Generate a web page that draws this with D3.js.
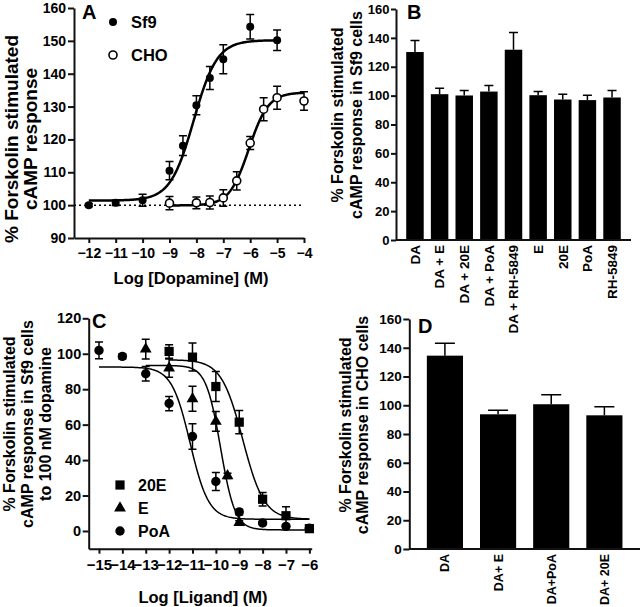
<!DOCTYPE html>
<html><head><meta charset="utf-8">
<script src="https://cdn.jsdelivr.net/npm/d3@7"></script>
<style>
body{margin:0;background:#fff;}
svg text{font-family:"Liberation Sans",Arial,Helvetica,sans-serif;font-weight:bold;fill:#000;}
</style></head><body>
<svg id="fig" width="640" height="607"></svg>
<script>
// ---------- Panel A : dose-response, Log [Dopamine] ----------
const doseSf9 = [-12, -11, -10, -9, -8.5, -8, -7.5, -7, -6, -5];
const respSf9 = [100, 100.7, 101.5, 110.5, 118.1, 130.4, 138.7, 144.4, 154.3, 150.2];
const errSf9  = [0.5, 0.8, 1.8, 2.8, 3.0, 2.9, 3.5, 4.4, 3.7, 3.1];
const doseCHO = [-9, -8, -7.5, -7, -6.5, -6, -5.5, -5, -4];
const respCHO = [100.6, 100.7, 100.8, 102.2, 107.4, 118.9, 129.2, 132.7, 131.7];
const errCHO  = [2.0, 1.8, 2.0, 2.5, 2.8, 2.0, 3.5, 3.5, 2.8];
const fitSf9 = {bottom: 101.4, top: 150.2, logEC50: -8.1, slope: 1.0, from: -12, to: -5};
const fitCHO = {bottom: 99.9, top: 134.3, logEC50: -6.05, slope: 1.2, from: -9, to: -4};
const ticksAx = [-12, -11, -10, -9, -8, -7, -6, -5, -4];
const ticksAy = [90, 100, 110, 120, 130, 140, 150, 160];

// ---------- Panel B : bars, Sf9 cells ----------
const catsB = ["DA", "DA + E", "DA + 20E", "DA + PoA", "DA + RH-5849", "E", "20E", "PoA", "RH-5849"];
const valsB = [130.2, 101.0, 100.1, 102.8, 131.8, 100.3, 97.3, 96.9, 98.7];
const errsB = [8.0, 4.1, 3.5, 4.2, 12.0, 2.5, 3.7, 3.4, 4.9];
const ticksBy = [0, 20, 40, 60, 80, 100, 120, 140, 160];

// ---------- Panel C : inhibition curves, Log [Ligand] ----------
const dose20E = [-12, -11, -10, -9, -8, -7, -6];
const resp20E = [101.3, 98.1, 81.5, 61.4, 17.9, 8.6, 1.3];
const err20E  = [3.8, 7.9, 8.5, 6.6, 3.8, 5.1, 2.0];
const doseE   = [-13, -12, -11, -10, -9.5, -9];
const respE   = [102.6, 91.9, 74.6, 61.8, 31.1, 4.7];
const errE    = [5.6, 5.1, 7.0, 5.6, 1.5, 1.0];
const dosePoA = [-15, -14, -13, -12, -11, -10, -9, -8, -7, -6];
const respPoA = [101.9, 98.5, 88.7, 71.9, 53.3, 27.9, 10.7, 4.5, 2.6, 1.5];
const errPoA  = [4.7, 1.5, 4.1, 4.0, 7.2, 5.1, 1.5, 1.0, 1.0, 1.0];
const fit20E = {bottom: 6.6, top: 96.6, logEC50: -8.85, slope: -0.95, from: -12, to: -6};
const fitE   = {bottom: 0.6, top: 93.4, logEC50: -9.8, slope: -1.4, from: -13, to: -6};
const fitPoA = {bottom: 6.6, top: 92.5, logEC50: -11.1, slope: -1.1, from: -15, to: -6};
const ticksCx = [-15, -14, -13, -12, -11, -10, -9, -8, -7, -6];
const ticksCy = [0, 20, 40, 60, 80, 100, 120];

// ---------- Panel D : bars, CHO cells ----------
const catsD = ["DA", "DA+ E", "DA+PoA", "DA+ 20E"];
const valsD = [134.5, 93.7, 100.7, 93.0];
const errsD = [8.6, 2.8, 6.6, 6.0];
const ticksDy = [0, 20, 40, 60, 80, 100, 120, 140, 160];

// =====================================================
const svg = d3.select("#fig");
const AX = "#111";

function hill(p) {
  return x => p.bottom + (p.top - p.bottom) / (1 + Math.pow(10, p.slope * (p.logEC50 - x)));
}
function curvePts(p) {
  const f = hill(p), pts = [];
  const n = 200;
  for (let i = 0; i <= n; i++) { const x = p.from + (p.to - p.from) * i / n; pts.push([x, f(x)]); }
  return pts;
}
function styleAxis(g, fs) {
  g.select(".domain").attr("stroke", AX).attr("stroke-width", 2);
  g.selectAll(".tick line").attr("stroke", AX).attr("stroke-width", 2);
  g.selectAll(".tick text").attr("font-size", fs).attr("fill", "#000")
    .style("font-family", "'Liberation Sans',Arial,sans-serif").style("font-weight", "bold");
  g.attr("font-family", null).attr("font-size", null);
}
function yTitle(lines, xs, cy, fs) {
  lines.forEach((t, i) => {
    svg.append("text").attr("transform", `translate(${xs[i]},${cy}) rotate(-90)`)
      .attr("text-anchor", "middle").attr("dominant-baseline", "central")
      .attr("font-size", fs).text(t);
  });
}
function label(t, x, y, fs) {
  svg.append("text").attr("x", x).attr("y", y).attr("font-size", fs).text(t);
}
function errBars(g, xs, ys, es, sx, sy, cap) {
  g.selectAll(null).data(xs).enter().append("path")
    .attr("d", (d, i) => {
      const x = sx(d), y1 = sy(ys[i] - es[i]), y2 = sy(ys[i] + es[i]);
      return `M${x},${y1}V${y2}M${x - cap},${y1}H${x + cap}M${x - cap},${y2}H${x + cap}`;
    })
    .attr("stroke", "#000").attr("stroke-width", 1.5).attr("fill", "none");
}

// ---------------- Panel A ----------------
{
  const x = d3.scaleLinear().domain([-12.55, -4]).range([74, 304]);
  const y = d3.scaleLinear().domain([90, 160]).range([238, 8]);
  const g = svg.append("g");
  g.append("g").attr("transform", "translate(0,238)")
    .call(d3.axisBottom(x).tickValues(ticksAx).tickFormat(d3.format("d")).tickSize(5).tickPadding(5.4).tickSizeOuter(0))
    .call(a => styleAxis(a, 14));
  g.append("g").attr("transform", "translate(74,0)")
    .call(d3.axisLeft(y).tickValues(ticksAy).tickSize(6).tickPadding(2).tickSizeOuter(0))
    .call(a => styleAxis(a, 14));
  // dotted baseline at 100
  g.append("line").attr("x1", x(-12.55)).attr("x2", x(-4.1)).attr("y1", y(100)).attr("y2", y(100))
    .attr("stroke", "#000").attr("stroke-width", 1.5).attr("stroke-dasharray", "2,3");
  const line = d3.line().x(d => x(d[0])).y(d => y(d[1]));
  [fitSf9, fitCHO].forEach(p => g.append("path").attr("d", line(curvePts(p)))
    .attr("fill", "none").attr("stroke", "#000").attr("stroke-width", 2.5));
  errBars(g, doseSf9, respSf9, errSf9, x, y, 4);
  errBars(g, doseCHO, respCHO, errCHO, x, y, 4);
  g.selectAll(null).data(doseSf9).enter().append("circle")
    .attr("cx", d => x(d)).attr("cy", (d, i) => y(respSf9[i])).attr("r", 4).attr("fill", "#000");
  g.selectAll(null).data(doseCHO).enter().append("circle")
    .attr("cx", d => x(d)).attr("cy", (d, i) => y(respCHO[i])).attr("r", 4)
    .attr("fill", "#fff").attr("stroke", "#000").attr("stroke-width", 1.6);
  // legend
  g.append("circle").attr("cx", 113).attr("cy", 22).attr("r", 4).attr("fill", "#000");
  label("Sf9", 131, 28, 16.5);
  g.append("circle").attr("cx", 113).attr("cy", 55).attr("r", 4).attr("fill", "#fff").attr("stroke", "#000").attr("stroke-width", 1.6);
  label("CHO", 131, 61, 16.5);
  label("A", 82, 19, 20);
  svg.append("text").attr("x", 191).attr("y", 284).attr("text-anchor", "middle").attr("font-size", 16.5).text("Log [Dopamine] (M)");
  yTitle(["% Forskolin stimulated", "cAMP response"], [11, 30], 139, 19);
}

// ---------------- Panel B ----------------
{
  const x = d3.scaleBand().domain(catsB).range([396, 631]).paddingInner(0.29).paddingOuter(0.415);
  const y = d3.scaleLinear().domain([0, 160]).range([240, 9]);
  const g = svg.append("g");
  g.selectAll(null).data(catsB).enter().append("rect")
    .attr("x", d => x(d)).attr("width", x.bandwidth())
    .attr("y", (d, i) => y(valsB[i])).attr("height", (d, i) => y(0) - y(valsB[i])).attr("fill", "#000");
  g.selectAll(null).data(catsB).enter().append("path")
    .attr("d", (d, i) => {
      const cx = x(d) + x.bandwidth() / 2, y1 = y(valsB[i]), y2 = y(valsB[i] + errsB[i]);
      return `M${cx},${y1}V${y2}M${cx - 4.5},${y2}H${cx + 4.5}`;
    }).attr("stroke", "#000").attr("stroke-width", 1.5).attr("fill", "none");
  g.append("g").attr("transform", "translate(396,0)")
    .call(d3.axisLeft(y).tickValues(ticksBy).tickSize(5).tickPadding(1.5).tickSizeOuter(0))
    .call(a => styleAxis(a, 13));
  g.append("line").attr("x1", 396).attr("x2", 631).attr("y1", 240).attr("y2", 240).attr("stroke", AX).attr("stroke-width", 2);
  g.selectAll(null).data(catsB).enter().append("text")
    .attr("transform", d => `translate(${x(d) + x.bandwidth() / 2},245) rotate(-90)`)
    .attr("text-anchor", "end").attr("dy", "0.36em").attr("font-size", 13.5).text(d => d);
  label("B", 407, 19, 20);
  yTitle(["% Forskolin stimulated", "cAMP response in Sf9 cells"], [337, 356], 115, 16);
}

// ---------------- Panel C ----------------
{
  const x = d3.scaleLinear().domain([-15.44, -5.9]).range([88.7, 311.7]);
  const y = d3.scaleLinear().domain([-10, 120]).range([548.7, 318.3]);
  const g = svg.append("g");
  g.append("g").attr("transform", "translate(0,548.7)")
    .call(d3.axisBottom(x).tickValues(ticksCx).tickFormat(d3.format("d")).tickSize(5).tickPadding(5.6).tickSizeOuter(0))
    .call(a => styleAxis(a, 15));
  g.append("g").attr("transform", "translate(88.7,0)")
    .call(d3.axisLeft(y).tickValues(ticksCy).tickSize(6).tickPadding(1.5).tickSizeOuter(0))
    .call(a => styleAxis(a, 14.5));
  const line = d3.line().x(d => x(d[0])).y(d => y(d[1]));
  [fit20E, fitE, fitPoA].forEach(p => g.append("path").attr("d", line(curvePts(p)))
    .attr("fill", "none").attr("stroke", "#000").attr("stroke-width", 1.5));
  errBars(g, dose20E, resp20E, err20E, x, y, 4);
  errBars(g, doseE, respE, errE, x, y, 4);
  errBars(g, dosePoA, respPoA, errPoA, x, y, 4);
  const sq = d3.symbol().type(d3.symbolSquare).size(85);
  const tri = d3.symbol().type(d3.symbolTriangle).size(60);
  g.selectAll(null).data(dose20E).enter().append("path").attr("d", sq)
    .attr("transform", (d, i) => `translate(${x(d)},${y(resp20E[i])})`).attr("fill", "#000");
  g.selectAll(null).data(doseE).enter().append("path").attr("d", tri)
    .attr("transform", (d, i) => `translate(${x(d)},${y(respE[i])})`).attr("fill", "#000");
  g.selectAll(null).data(dosePoA).enter().append("circle")
    .attr("cx", d => x(d)).attr("cy", (d, i) => y(respPoA[i])).attr("r", 4.7).attr("fill", "#000");
  // legend
  g.append("path").attr("d", sq).attr("transform", "translate(120,485)").attr("fill", "#000");
  g.append("path").attr("d", tri).attr("transform", "translate(120,508)").attr("fill", "#000");
  g.append("circle").attr("cx", 120).attr("cy", 531).attr("r", 4.7).attr("fill", "#000");
  label("20E", 138, 491, 16);
  label("E", 138, 514, 16);
  label("PoA", 138, 537, 16);
  label("C", 92, 328, 20);
  svg.append("text").attr("x", 203).attr("y", 603).attr("text-anchor", "middle").attr("font-size", 16.5).text("Log [Ligand] (M)");
  yTitle(["% Forskolin stimulated", "cAMP response in Sf9 cells", "to 100 nM dopamine"], [9, 27, 45], 424, 16);
}

// ---------------- Panel D ----------------
{
  const x = d3.scaleBand().domain(catsD).range([409.3, 640]).paddingInner(0.32).paddingOuter(0.33);
  const y = d3.scaleLinear().domain([0, 160]).range([549, 319]);
  const g = svg.append("g");
  g.selectAll(null).data(catsD).enter().append("rect")
    .attr("x", d => x(d)).attr("width", x.bandwidth())
    .attr("y", (d, i) => y(valsD[i])).attr("height", (d, i) => y(0) - y(valsD[i])).attr("fill", "#000");
  g.selectAll(null).data(catsD).enter().append("path")
    .attr("d", (d, i) => {
      const cx = x(d) + x.bandwidth() / 2, y1 = y(valsD[i]), y2 = y(valsD[i] + errsD[i]);
      return `M${cx},${y1}V${y2}M${cx - 10},${y2}H${cx + 10}`;
    }).attr("stroke", "#000").attr("stroke-width", 1.5).attr("fill", "none");
  g.append("g").attr("transform", "translate(409.3,0)")
    .call(d3.axisLeft(y).tickValues(ticksDy).tickSize(6).tickPadding(1.5).tickSizeOuter(0))
    .call(a => styleAxis(a, 13.5));
  g.append("line").attr("x1", 409.3).attr("x2", 640).attr("y1", 549).attr("y2", 549).attr("stroke", AX).attr("stroke-width", 2);
  g.selectAll(null).data(catsD).enter().append("text")
    .attr("transform", d => `translate(${x(d) + x.bandwidth() / 2},554) rotate(-90)`)
    .attr("text-anchor", "end").attr("dy", "0.36em").attr("font-size", 12.5).text(d => d);
  label("D", 418, 333, 20);
  yTitle(["% Forskolin stimulated", "cAMP response in CHO cells"], [345, 362], 425, 16);
}
</script>
</body></html>
